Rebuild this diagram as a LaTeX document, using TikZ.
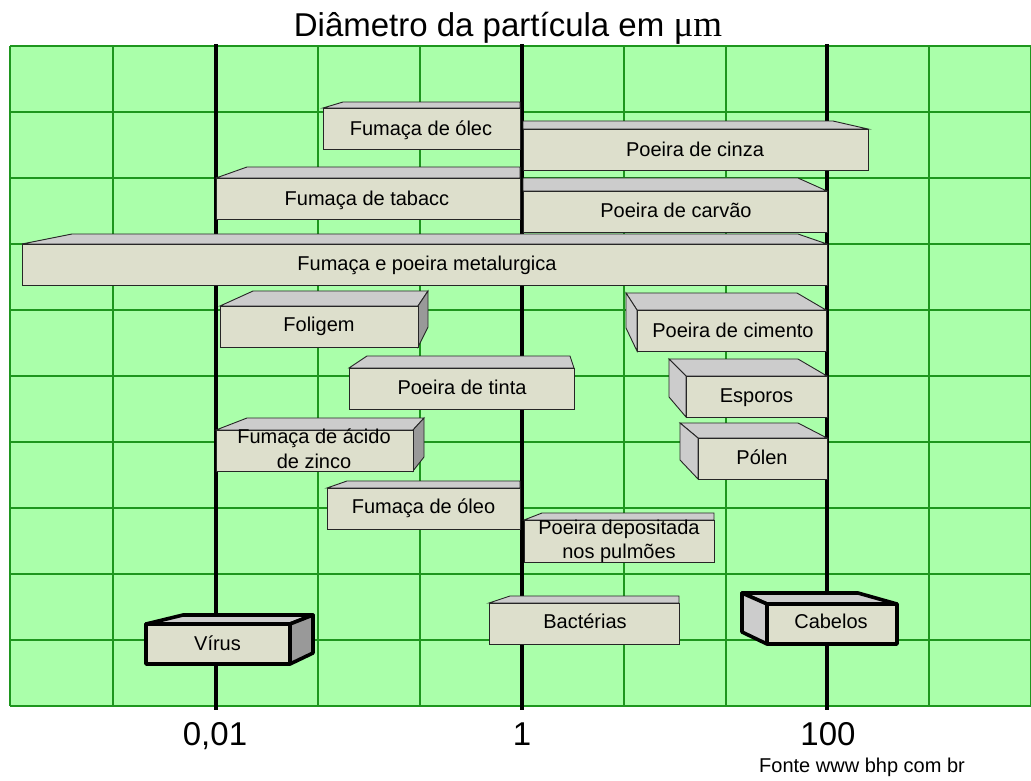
\documentclass[tikz,border=0pt]{standalone}
\usepackage{fontspec}
\setmainfont{Liberation Sans}
\newfontfamily\serifmu{Liberation Serif}
\definecolor{bgc}{RGB}{170,255,170}
\definecolor{gridc}{RGB}{30,150,30}
\definecolor{frontc}{RGB}{221,223,204}
\definecolor{topc}{RGB}{204,204,204}
\definecolor{darkc}{RGB}{153,153,153}
\tikzset{
  front/.style={fill=frontc, draw=black!85, line width=0.9pt, line join=miter},
  topf/.style={fill=topc, draw=black!85, line width=0.9pt, line join=miter},
  sided/.style={fill=darkc, draw=black!85, line width=0.9pt, line join=miter},
  sidel/.style={fill=topc, draw=black!85, line width=0.9pt, line join=miter},
  heavy/.style={draw=black, line width=3.6pt, line join=round},
  lbl/.style={anchor=base, inner sep=0pt, font=\fontsize{20}{23}\selectfont},
  axl/.style={anchor=base, inner sep=0pt, font=\fontsize{33}{38}\selectfont},
  gridline/.style={draw=gridc, line width=1.3pt},
  decade/.style={draw=black, line width=4pt},
}
\begin{document}
\begin{tikzpicture}[x=1pt, y=-1pt]
\useasboundingbox (0,0) rectangle (1031,780);
% background grid
\fill[bgc] (10,46) rectangle (1031,706);
\foreach \gx in {10,113,216,318,420,522,624,726,827,929,1030.5}
  \draw[gridline] (\gx,46) -- (\gx,706);
\foreach \gy in {46,112,178,244,310,376,442,508,574,640,706}
  \draw[gridline] (10,\gy) -- (1031,\gy);
\foreach \gx in {216,522,827}
  \draw[decade] (\gx,44) -- (\gx,710);
% title
\node[anchor=base, inner sep=0pt, font=\fontsize{33}{38}\selectfont] (title) at (508,36) {Diâmetro da partícula em {\serifmu\fontsize{37}{40}\selectfont μm}};
% 1 Fumaca de oleo (top)
\draw[topf] (323,108) -- (343,102) -- (520,102) -- (520,108) -- cycle;
\draw[front] (323,108) rectangle (520,149);
\node[lbl] (b1) at (421,135) {Fumaça de ólec};
% 2 Poeira de cinza
\draw[topf] (523,129) -- (523,121) -- (833,121) -- (868,129) -- cycle;
\draw[front] (523,129) rectangle (868,170);
\node[lbl] (b2) at (695,156.5) {Poeira de cinza};
% 3 Fumaca de tabaco
\draw[topf] (216,178) -- (247,167) -- (520,167) -- (520,178) -- cycle;
\draw[front] (216,178) rectangle (520,219);
\node[lbl] (b3) at (367,205) {Fumaça de tabacc};
% 4 Poeira de carvao
\draw[topf] (523,191) -- (523,178) -- (798,178) -- (827,191) -- cycle;
\draw[front] (523,191) rectangle (827,232);
\node[lbl] (b4) at (676,217.5) {Poeira de carvão};
% 5 Fumaca e poeira metalurgica
\draw[topf] (22,244) -- (72,234) -- (798,234) -- (827,244) -- cycle;
\draw[front] (22,244) rectangle (827,285);
\node[lbl] (b5) at (427,270) {Fumaça e poeira metalurgica};
% 6 Foligem
\draw[topf] (220,306) -- (253,291) -- (428,291) -- (418,306) -- cycle;
\draw[sided] (418,306) -- (428,291) -- (428,327) -- (418,347) -- cycle;
\draw[front] (220,306) rectangle (418,347);
\node[lbl] (b6) at (319,331.5) {Foligem};
% 7 Poeira de tinta
\draw[topf] (349,368) -- (367,356) -- (570,356) -- (574,368) -- cycle;
\draw[front] (349,368) rectangle (574,409);
\node[lbl] (b7) at (462,394) {Poeira de tinta};
% 8 Fumaca de acido de zinco
\draw[topf] (216,430) -- (247,418) -- (424,418) -- (413,430) -- cycle;
\draw[sided] (413,430) -- (424,418) -- (424,457) -- (413,471) -- cycle;
\draw[front] (216,430) rectangle (413,471);
\node[lbl] (b8a) at (314,443.5) {Fumaça de ácido};
\node[lbl] (b8b) at (314,468) {de zinco};
% 9 Fumaca de oleo (lower)
\draw[topf] (327,488) -- (347,481) -- (520,481) -- (520,488) -- cycle;
\draw[front] (327,488) rectangle (520,529);
\node[lbl] (b9) at (423.5,513.5) {Fumaça de óleo};
% 10 Poeira depositada nos pulmoes
\draw[topf] (524,520) -- (542,513) -- (714,513) -- (714,520) -- cycle;
\draw[front] (524,520) rectangle (714,562);
\node[lbl] (b10a) at (619,534) {Poeira depositada};
\node[lbl] (b10b) at (619,558) {nos pulmões};
% 11 Bacterias
\draw[topf] (489,603) -- (510,596) -- (679,596) -- (679,603) -- cycle;
\draw[front] (489,603) rectangle (679,644);
\node[lbl] (b11) at (585,628.5) {Bactérias};
% 12 Virus (heavy)
\draw[topf, heavy] (146,624) -- (183,615) -- (313,615) -- (290,624) -- cycle;
\draw[sided, heavy] (290,624) -- (313,615) -- (313,653) -- (290,664) -- cycle;
\draw[front, heavy] (146,624) rectangle (290,664);
\node[lbl] (b12) at (217.5,650) {Vírus};
% 13 Cabelos (heavy)
\draw[topf, heavy] (767,604) -- (742,593) -- (858,593) -- (897,604) -- cycle;
\draw[sidel, heavy] (742,593) -- (767,604) -- (767,644) -- (742,632) -- cycle;
\draw[front, heavy] (767,604) rectangle (897,644);
\node[lbl] (b13) at (831,628.5) {Cabelos};
% 14 Poeira de cimento
\draw[topf] (637,310) -- (626,293) -- (797,293) -- (826,310) -- cycle;
\draw[sidel] (626,293) -- (637,310) -- (637,351) -- (626,328) -- cycle;
\draw[front] (637,310) rectangle (826,351);
\node[lbl] (b14) at (733,337) {Poeira de cimento};
% 15 Esporos
\draw[topf] (686,376) -- (669,359) -- (798,359) -- (827,376) -- cycle;
\draw[sidel] (669,359) -- (686,376) -- (686,417) -- (669,397) -- cycle;
\draw[front] (686,376) rectangle (827,417);
\node[lbl] (b15) at (756.5,402.5) {Esporos};
% 16 Polen
\draw[topf] (698,438) -- (680,423) -- (798,423) -- (827,438) -- cycle;
\draw[sidel] (680,423) -- (698,438) -- (698,479) -- (680,460) -- cycle;
\draw[front] (698,438) rectangle (827,479);
\node[lbl] (b16) at (762,464.5) {Pólen};
% axis labels
\node[axl] (a1) at (215,745) {0,01};
\node[axl] (a2) at (522,745) {1};
\node[axl] (a3) at (828,745) {100};
\node[anchor=base west, inner sep=0pt, font=\fontsize{20}{23}\selectfont] (src) at (759,772) {Fonte www bhp com br};
\end{tikzpicture}
\end{document}
